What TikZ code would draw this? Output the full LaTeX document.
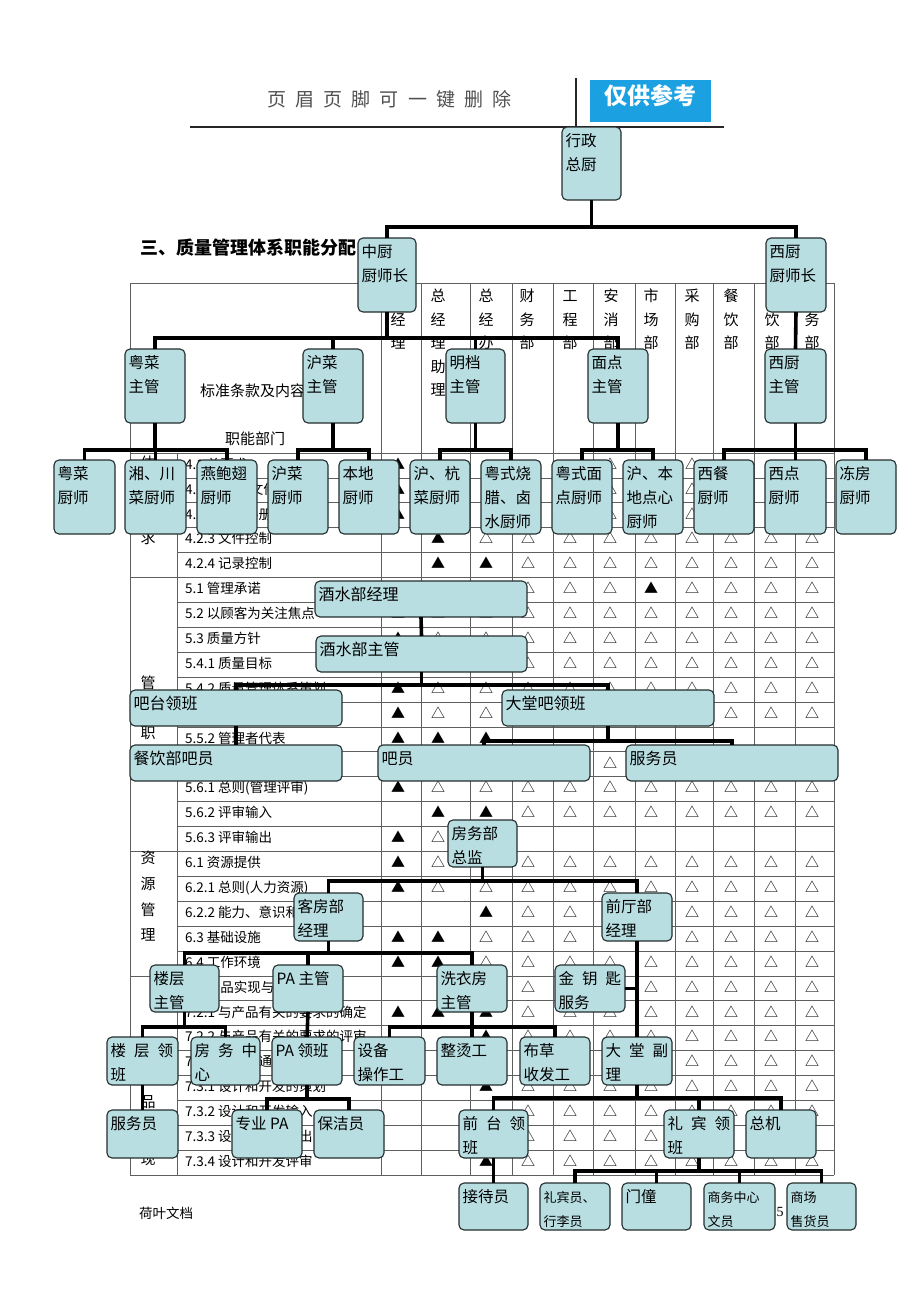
\documentclass[tikz,border=0pt]{standalone}
\usepackage{fontspec}
\setmainfont{Liberation Serif}
\newfontfamily\cjk{Noto Sans CJK SC}
\usetikzlibrary{fit}
\definecolor{boxfill}{RGB}{184,222,226}
\definecolor{boxline}{RGB}{35,45,45}
\definecolor{hdrblue}{RGB}{27,161,226}
\definecolor{gridc}{RGB}{95,95,95}
\definecolor{hdrgray}{RGB}{80,80,80}
\tikzset{
 orgbox/.style={draw=boxline,fill=boxfill,rounded corners=5pt,line width=1.1pt,inner sep=0pt,outer sep=0pt},
 conn/.style={line width=3.6pt,draw=black},
 gridl/.style={draw=gridc,line width=0.8pt},
 txt/.style={inner sep=0pt,text height=0.88em,text depth=0.12em},
}
\newcommand\jg{\hspace{8pt}}
\newcommand\orgbx[7][15.5]{%
 \node[orgbox,fit={(#3,#4)(#5,#6)}] (#2) {};
 \foreach \tl [count=\ti from 0] in {#7}{%
   \node[txt,anchor=west,font=\cjk\fontsize{#1}{#1}\selectfont] at ({#3+3.5},{#4+16+24*\ti}) {\tl};
 }}
\newcommand\tree[5]{%
 \draw[conn] (#1.south) -- (#1.south |- 0,#2);
 \draw[conn] (#3.north) -- (#3.north |- 0,#2) -- (#4.north |- 0,#2) -- (#4.north);
 \foreach \chd in {#5}{\draw[conn] (\chd.north) -- (\chd.north |- 0,#2);}
}
\def\symA{A}\def\symD{-}
\begin{document}
\begin{tikzpicture}[x=1pt,y=-1pt]
\useasboundingbox (0,0) rectangle (920,1302);
\fill[white] (0,0) rectangle (920,1302);

% ---------- page header ----------
\foreach \ch [count=\i from 0] in {页,眉,页,脚,可,一,键,删,除}
  \node[txt,text=hdrgray,font=\cjk\fontsize{19}{19}\selectfont] at ({277+28.1*\i},103) {\ch};
\draw[line width=2pt,black!85] (190,127) -- (724,127);
\draw[line width=1.5pt,black!85] (576,78) -- (576,127);
\fill[hdrblue] (590,80) rectangle (711,122);
\node[txt,text=white,font=\cjk\bfseries\fontsize{23}{23}\selectfont] at (650.5,101) {仅供参考};

% ---------- title ----------
\node[txt,anchor=west,font=\cjk\bfseries\fontsize{18}{18}\selectfont] at (140,251) {三、质量管理体系职能分配};

% ---------- table grid ----------
\draw[gridl] (130,283) -- (834,283);
\draw[gridl] (130,453) -- (834,453);
\draw[gridl] (130,1175) -- (834,1175);
\draw[gridl] (130,283) -- (130,1175);
\draw[gridl] (177,453) -- (177,1175);
\foreach \x in {381,421,470,512,553,593,635,675,713,754,795,834}
  \draw[gridl] (\x,283) -- (\x,1175);
\foreach \r in {1,...,28}{
  \pgfmathsetmacro\yy{453+24.9*\r}
  \ifnum\r=5 \draw[gridl] (130,\yy) -- (834,\yy);
  \else\ifnum\r=16 \draw[gridl] (130,\yy) -- (834,\yy);
  \else\ifnum\r=21 \draw[gridl] (130,\yy) -- (834,\yy);
  \else \draw[gridl] (177,\yy) -- (834,\yy);
  \fi\fi\fi
}
\node[txt,anchor=west,font=\cjk\fontsize{15}{15}\selectfont] at (200,393) {标准条款及内容};
\node[txt,anchor=west,font=\cjk\fontsize{15}{15}\selectfont] at (225,441) {职能部门};
\foreach \xx/\chs in {398/{-,经,理},438/{总,经,理,助,理},486/{总,经,办},527/{财,务,部},570/{工,程,部},611/{安,消,部},651/{市,场,部},692/{采,购,部},731/{餐,饮,部},772/{-,饮,部},812/{-,务,部}}{
  \foreach \ch [count=\k from 0] in \chs {
    \edef\tmp{\ch}
    \ifx\tmp\symD\else
      \node[txt,font=\cjk\fontsize{15}{15}\selectfont] at (\xx,{298+23.5*\k}) {\ch};
    \fi
  }
}
\foreach \ch/\yy in {体/465,求/540,管/685,职/735,资/860,源/886,管/912,理/937,品/1104,现/1161}
  \node[txt,font=\cjk\fontsize{15}{15}\selectfont] at (148,\yy) {\ch};

\foreach \txt/\syms [count=\r from 0] in {
 {4.1 总要求}/{A,-,-,-,-,O,-,O,-,-,-},
 {4.2.1 总则(文件要求)}/{A,-,-,-,-,O,-,O,-,-,-},
 {4.2.2 质量手册}/{A,-,-,-,-,O,-,O,-,-,-},
 {4.2.3 文件控制}/{-,A,O,O,O,O,O,O,O,O,O},
 {4.2.4 记录控制}/{-,A,A,O,O,O,O,O,O,O,O},
 {5.1 管理承诺}/{-,-,-,O,O,O,A,O,O,O,O},
 {5.2 以顾客为关注焦点}/{A,O,O,O,O,O,O,O,O,O,O},
 {5.3 质量方针}/{A,O,O,O,O,O,O,O,O,O,O},
 {5.4.1 质量目标}/{-,-,-,O,O,O,O,O,O,O,O},
 {5.4.2 质量管理体系策划}/{A,O,O,O,O,O,O,O,O,O,O},
 {}/{A,O,O,-,-,-,-,-,O,O,O},
 {5.5.2 管理者代表}/{A,A,A,-,-,-,-,-,-,-,-},
 {}/{-,-,-,-,-,O,-,-,-,-,-},
 {5.6.1 总则(管理评审)}/{A,O,O,O,O,O,O,O,O,O,O},
 {5.6.2 评审输入}/{-,A,A,O,O,O,O,O,O,O,O},
 {5.6.3 评审输出}/{A,O,-,-,-,-,-,-,-,-,-},
 {6.1 资源提供}/{A,O,-,O,O,O,O,O,O,O,O},
 {6.2.1 总则(人力资源)}/{A,O,O,O,O,O,O,O,O,O,O},
 {6.2.2 能力、意识和培训}/{-,-,A,O,O,-,-,O,O,O,O},
 {6.3 基础设施}/{A,A,O,O,O,-,-,O,O,O,O},
 {6.4 工作环境}/{A,A,O,O,O,O,O,O,O,O,O},
 {7.1 产品实现与策划}/{-,-,-,O,-,-,O,O,O,O,O},
 {7.2.1 与产品有关的要求的确定}/{A,A,A,O,O,O,O,O,O,O,O},
 {7.2.2 与产品有关的要求的评审}/{-,-,A,O,O,O,O,O,O,O,O},
 {7.2.3 顾客沟通}/{-,-,-,-,-,-,-,O,O,O,O},
 {7.3.1 设计和开发的策划}/{-,-,A,O,O,O,O,O,O,O,O},
 {7.3.2 设计和开发输入}/{-,-,-,O,O,O,O,O,O,O,O},
 {7.3.3 设计和开发输出}/{-,-,-,O,O,O,O,-,-,-,-},
 {7.3.4 设计和开发评审}/{-,-,A,O,O,O,O,O,O,O,O}}{
  \pgfmathsetmacro\yc{465.45+24.9*\r}
  \node[txt,anchor=west,font=\cjk\fontsize{13.5}{13.5}\selectfont] at (185,\yc) {\txt};
  \foreach \s [count=\c from 0] in \syms {
    \edef\tmp{\s}
    \ifx\tmp\symD\else
      \pgfmathsetmacro\xx{{398,438,486,528,570,610,651,692,731,771,812}[\c]}
      \node[txt,font=\cjk\fontsize{14}{14}\selectfont] at (\xx,\yc) {\ifx\tmp\symA ▲\else △\fi};
    \fi
  }
}

% ---------- footer ----------
\node[txt,anchor=west,font=\cjk\fontsize{13.5}{13.5}\selectfont] at (139,1215) {荷叶文档};
\node[txt,font=\fontsize{14}{14}\selectfont] at (780,1213) {5};

% ---------- kitchen org chart ----------
\orgbx{xz}{562}{127}{621}{200}{行政,总厨}
\orgbx{zc}{358}{238}{416}{312}{中厨,厨师长}
\orgbx{xc}{766}{238}{826}{312}{西厨,厨师长}
\orgbx{ycz}{125}{349}{185}{423}{粤菜,主管}
\orgbx{hcz}{303}{349}{363}{423}{沪菜,主管}
\orgbx{mdz}{446}{349}{505}{423}{明档,主管}
\orgbx{mdn}{588}{349}{648}{423}{面点,主管}
\orgbx{xcz}{765}{349}{826}{423}{西厨,主管}
\orgbx{ka}{54}{460}{115}{534}{粤菜,厨师}
\orgbx{kb}{125}{460}{186}{534}{湘、川,菜厨师}
\orgbx{kc}{197}{460}{257}{534}{燕鲍翅,厨师}
\orgbx{kd}{268}{460}{328}{534}{沪菜,厨师}
\orgbx{ke}{339}{460}{399}{534}{本地,厨师}
\orgbx{kf}{410}{460}{470}{534}{沪、杭,菜厨师}
\orgbx{kg}{481}{460}{541}{534}{粤式烧,腊、卤,水厨师}
\orgbx{kh}{552}{460}{612}{534}{粤式面,点厨师}
\orgbx{ki}{623}{460}{683}{534}{沪、本,地点心,厨师}
\orgbx{kj}{694}{460}{754}{534}{西餐,厨师}
\orgbx{kk}{765}{460}{826}{534}{西点,厨师}
\orgbx{kl}{836}{460}{896}{534}{冻房,厨师}

% ---------- bar org chart ----------
\orgbx[16]{jsjl}{315}{581}{527}{617}{酒水部经理}
\orgbx[16]{jszg}{316}{636}{527}{672}{酒水部主管}
\orgbx[16]{btlb}{130}{690}{342}{726}{吧台领班}
\orgbx[16]{dtblb}{502}{690}{714}{726}{大堂吧领班}
\orgbx[16]{cyby}{130}{745}{342}{781}{餐饮部吧员}
\orgbx[16]{by}{378}{745}{590}{781}{吧员}
\orgbx[16]{fwya}{626}{745}{838}{781}{服务员}

% ---------- rooms org chart ----------
\orgbx{fwzj}{448}{820}{517}{867}{房务部,总监}
\orgbx{kfjl}{294}{893}{363}{941}{客房部,经理}
\orgbx{qtjl}{602}{893}{672}{941}{前厅部,经理}
\orgbx{lczg}{150}{965}{219}{1012}{楼层,主管}
\orgbx{pazg}{273}{965}{343}{1012}{PA 主管}
\orgbx{xyf}{437}{965}{507}{1012}{洗衣房,主管}
\orgbx{jys}{555}{965}{625}{1012}{金\jg 钥\jg 匙,服务}
\orgbx{lclb}{107}{1037}{178}{1085}{楼\jg 层\jg 领,班}
\orgbx{fwzx}{191}{1037}{260}{1085}{房\jg 务\jg 中,心}
\orgbx{palb}{272}{1037}{342}{1085}{PA 领班}
\orgbx{sbcz}{354}{1037}{425}{1085}{设备,操作工}
\orgbx{ztg}{437}{1037}{507}{1085}{整烫工}
\orgbx{bcsf}{520}{1037}{590}{1085}{布草,收发工}
\orgbx{dtfl}{602}{1037}{672}{1085}{大\jg 堂\jg 副,理}
\orgbx{fwyb}{107}{1110}{178}{1158}{服务员}
\orgbx{zypa}{232}{1110}{302}{1158}{专业 PA}
\orgbx{bjy}{314}{1110}{384}{1158}{保洁员}
\orgbx{qtlb}{459}{1110}{528}{1158}{前\jg 台\jg 领,班}
\orgbx{lblb}{664}{1110}{734}{1158}{礼\jg 宾\jg 领,班}
\orgbx{zj}{746}{1110}{816}{1158}{总机}
\orgbx{jdy}{459}{1183}{528}{1230}{接待员}
\orgbx[13]{lby}{540}{1183}{610}{1230}{礼宾员、,行李员}
\orgbx{mt}{622}{1183}{691}{1230}{门僮}
\orgbx[13]{swzx}{704}{1183}{775}{1230}{商务中心,文员}
\orgbx[13]{scsh}{787}{1183}{856}{1230}{商场,售货员}

% ---------- connectors ----------
\tree{xz}{227}{zc}{xc}{zc,xc}
\tree{zc}{338}{ycz}{mdn}{ycz,hcz,mdz,mdn}
\draw[conn] (xc.south) -- (xcz.north);
\tree{ycz}{450}{ka}{kc}{ka,kb,kc}
\tree{hcz}{450}{kd}{ke}{kd,ke}
\tree{mdz}{450}{kf}{kg}{kf,kg}
\tree{mdn}{450}{kh}{ki}{kh,ki}
\tree{xcz}{450}{kj}{kl}{kj,kk,kl}

\draw[conn] (jsjl.south) -- (jszg.north);
\tree{jszg}{685}{btlb}{dtblb}{btlb,dtblb}
\draw[conn] (btlb.south) -- (cyby.north);
\tree{dtblb}{741}{by}{fwya}{by,fwya}

\tree{fwzj}{881}{kfjl}{qtjl}{kfjl,qtjl}
\tree{kfjl}{953}{lczg}{xyf}{lczg,pazg,xyf}
\draw[conn] (qtjl.south) -- (dtfl.north);
\draw[conn] (jys.east) -- (jys.east -| qtjl.south);
\tree{lczg}{1027}{lclb}{fwzx}{lclb,fwzx}
\draw[conn] (pazg.south) -- (palb.north);
\tree{xyf}{1027}{sbcz}{bcsf}{sbcz,ztg,bcsf}
\draw[conn] (lclb.south) -- (fwyb.north);
\tree{palb}{1099}{zypa}{bjy}{zypa,bjy}
\tree{dtfl}{1098}{qtlb}{zj}{qtlb,lblb,zj}
\draw[conn] (qtlb.south) -- (jdy.north);
\tree{lblb}{1171}{lby}{scsh}{lby,mt,swzx,scsh}
\end{tikzpicture}
\end{document}
